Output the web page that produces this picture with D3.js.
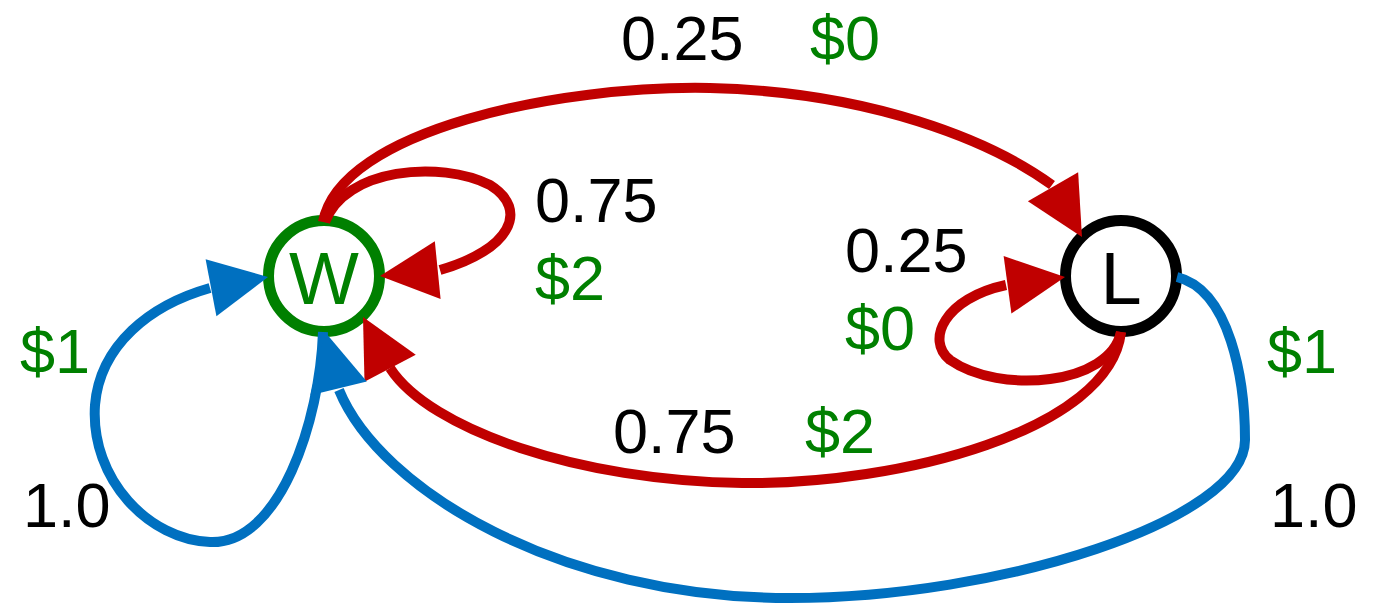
<!DOCTYPE html>
<html>
<head>
<meta charset="utf-8">
<script src="https://cdn.jsdelivr.net/npm/d3@7"></script>
<style>
  html, body { margin: 0; padding: 0; background: #fff; }
  svg { display: block; }
  text { font-family: "Liberation Sans", Arial, sans-serif; }
</style>
</head>
<body>
<div id="grafico"></div>
<script>
(() => {
    // Estados del diagrama
    const nodeNames = ["W", "L"];
    const nodeCenters = [[324, 276], [1121, 276]];
    const nodeColors = ["#008000", "#000000"];

    // Aristas: puntos de la curva (inicio + tripletes bezier) y punta de la flecha
    const edgeColors = ["#C00000", "#C00000", "#C00000", "#C00000", "#0070C0", "#0070C0"];
    const edgePoints = [
        // W -> L (arriba)
        [[323, 222], [340, 130], [560, 85], [710, 88], [870, 92], [990, 140], [1052, 185]],
        // W -> W (bucle derecha)
        [[325, 222], [345, 168], [440, 160], [490, 185], [530, 210], [510, 250], [440, 270]],
        // L -> L (bucle)
        [[1121, 332], [1110, 385], [1000, 395], [950, 360], [925, 340], [945, 298], [1006, 285]],
        // L -> W (abajo, rojo)
        [[1121, 332], [1110, 430], [900, 485], [742, 483], [580, 481], [430, 430], [390, 368]],
        // W -> W (bucle azul izquierda)
        [[323, 332], [320, 420], [280, 545], [210, 542], [150, 540], [90, 480], [95, 405], [100, 345], [150, 305], [210, 288]],
        // L -> W (azul, por abajo)
        [[1177, 277], [1230, 290], [1245, 380], [1245, 440], [1245, 520], [1000, 598], [790, 598], [560, 598], [380, 490], [339, 390]]
    ];
    const edgeTips = [[1082, 237], [380, 276], [1065, 277], [363, 317], [268, 277], [325, 332]];

    // Etiquetas: probabilidad y recompensa
    const labelTexts = ["0.25", "$0", "0.75", "$2", "0.25", "$0", "$1", "1.0", "0.75", "$2", "$1", "1.0"];
    const labelPos = [[621, 60], [810, 60], [535, 222], [535, 300], [845, 272], [845, 350],
                      [20, 373], [23, 527], [613, 453], [805, 453], [1267, 373], [1270, 527]];
    const labelColors = ["#000", "#008000", "#000", "#008000", "#000", "#008000",
                         "#008000", "#000", "#000", "#008000", "#008000", "#000"];

    const width = 1373;
    const height = 604;
    const radio = 55.5;
    const grosor = 10;
    const flechaLargo = 58;
    const flechaAncho = 29;

    const svg = d3.select("#grafico")
        .append("svg")
        .attr("width", width)
        .attr("height", height)
        .attr("viewBox", [0, 0, width, height]);

    // Nodos
    const nodos = svg.append("g").attr("class", "nodos");
    nodos.selectAll("circle")
        .data(nodeNames)
        .join("circle")
        .attr("cx", (d, i) => nodeCenters[i][0])
        .attr("cy", (d, i) => nodeCenters[i][1])
        .attr("r", radio)
        .attr("fill", "#fff")
        .attr("stroke", (d, i) => nodeColors[i])
        .attr("stroke-width", 11);

    nodos.selectAll("text")
        .data(nodeNames)
        .join("text")
        .attr("x", (d, i) => nodeCenters[i][0])
        .attr("y", (d, i) => nodeCenters[i][1] + 28)
        .attr("text-anchor", "middle")
        .attr("font-size", 74)
        .attr("fill", (d, i) => nodeColors[i])
        .text(d => d);

    // Construye la curva con d3.path
    function curva(pts) {
        const p = d3.path();
        p.moveTo(pts[0][0], pts[0][1]);
        for (let k = 1; k + 2 < pts.length; k += 3) {
            p.bezierCurveTo(pts[k][0], pts[k][1], pts[k + 1][0], pts[k + 1][1], pts[k + 2][0], pts[k + 2][1]);
        }
        return p.toString();
    }

    // Triangulo de la flecha a partir de la base (fin de la curva) y la punta
    function flecha(base, tip) {
        const dx = tip[0] - base[0], dy = tip[1] - base[1];
        const len = Math.hypot(dx, dy);
        const ux = dx / len, uy = dy / len;
        const bx = tip[0] - ux * flechaLargo, by = tip[1] - uy * flechaLargo;
        const px = -uy * flechaAncho, py = ux * flechaAncho;
        return `M${tip[0]},${tip[1]}L${bx + px},${by + py}L${bx - px},${by - py}Z`;
    }

    const aristas = svg.append("g").attr("class", "aristas");
    aristas.selectAll("path.linea")
        .data(edgePoints)
        .join("path")
        .attr("class", "linea")
        .attr("d", d => curva(d))
        .attr("fill", "none")
        .attr("stroke", (d, i) => edgeColors[i])
        .attr("stroke-width", grosor);

    aristas.selectAll("path.punta")
        .data(edgePoints)
        .join("path")
        .attr("class", "punta")
        .attr("d", (d, i) => flecha(d[d.length - 1], edgeTips[i]))
        .attr("fill", (d, i) => edgeColors[i]);

    // Etiquetas
    svg.append("g").attr("class", "etiquetas")
        .selectAll("text")
        .data(labelTexts)
        .join("text")
        .attr("x", (d, i) => labelPos[i][0])
        .attr("y", (d, i) => labelPos[i][1])
        .attr("font-size", 63)
        .attr("fill", (d, i) => labelColors[i])
        .text(d => d);
})();
</script>
</body>
</html>
